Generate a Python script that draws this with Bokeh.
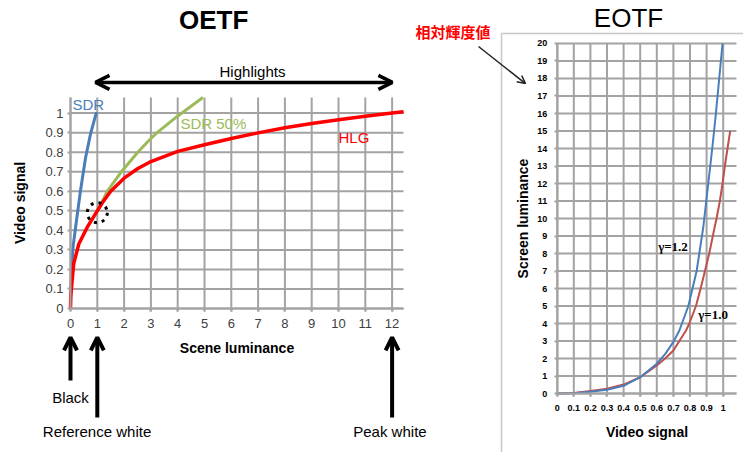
from bokeh.plotting import figure
from bokeh.models import Range1d, FixedTicker, Label, Arrow, OpenHead, LinearAxis
from bokeh.embed import file_html
from bokeh.resources import INLINE

# ---------------- OETF data (scene luminance -> video signal) ----------------
sdr_L = [0, 0.01, 0.04, 0.1, 0.19, 0.37, 0.56, 0.75, 0.97]
sdr_V = [0, 0.08, 0.21, 0.32, 0.416, 0.60, 0.77, 0.895, 1.005]

sdr50_L = [1.0, 1.18, 1.37, 1.9, 2.51, 2.96, 3.23, 3.98, 4.94]
sdr50_V = [0.50, 0.545, 0.60, 0.70, 0.80, 0.865, 0.90, 0.983, 1.08]

hlg_L = [0, 0.01, 0.04, 0.12, 0.31, 0.62, 1.0, 1.18, 1.5, 2, 2.5, 3, 4, 5, 6, 7, 8, 9, 10, 11, 12, 12.43]
hlg_V = [0, 0.06, 0.11, 0.23, 0.33, 0.415, 0.5, 0.54, 0.60, 0.667, 0.715, 0.752, 0.804, 0.838, 0.870,
         0.899, 0.925, 0.947, 0.966, 0.984, 1.0, 1.007]

circle_L = [1.0]
circle_V = [0.49]

oetf_x_ticks = [0, 1, 2, 3, 4, 5, 6, 7, 8, 9, 10, 11, 12]
oetf_y_ticks = [0, 0.1, 0.2, 0.3, 0.4, 0.5, 0.6, 0.7, 0.8, 0.9, 1.0]
oetf_y_labels = ["0", "0.1", "0.2", "0.3", "0.4", "0.5", "0.6", "0.7", "0.8", "0.9", "1"]
oetf_x_max = 12.425
oetf_y_max = 1.08

# ---------------- EOTF data (video signal -> screen luminance) ----------------
g12_V = [0, 0.1, 0.2, 0.3, 0.4, 0.5, 0.6, 0.65, 0.7, 0.736, 0.79, 0.84, 0.88, 0.91, 0.934, 0.956, 0.976, 0.996]
g12_L = [0, 0.02, 0.1, 0.21, 0.44, 0.93, 1.7, 2.25, 2.95, 3.6, 5.0, 7.0, 9.5, 12, 14, 16, 18, 20]

g10_V = [0, 0.1, 0.2, 0.3, 0.4, 0.5, 0.6, 0.65, 0.7, 0.776, 0.796, 0.836, 0.864, 0.89, 0.916, 0.944,
         0.960, 0.980, 0.996, 1.010, 1.026, 1.042]
g10_L = [0, 0.03, 0.15, 0.27, 0.51, 0.93, 1.6, 2.0, 2.46, 3.6, 4.0, 5.0, 6.0, 7.0, 8.0, 9.3,
         10, 11, 12, 13, 14, 15]

eotf_x_ticks = [0, 0.1, 0.2, 0.3, 0.4, 0.5, 0.6, 0.7, 0.8, 0.9, 1.0]
eotf_x_labels = ["0", "0.1", "0.2", "0.3", "0.4", "0.5", "0.6", "0.7", "0.8", "0.9", "1"]
eotf_y_ticks = list(range(0, 21))
eotf_x_max = 1.08
eotf_y_max = 20

# ---------------- styles ----------------
GRID = "#a3a3a3"
FONT = "Liberation Sans"
BLUE = "#4a7ebb"
GREEN = "#9bbb59"
RED = "#ff0000"
RED2 = "#c0504d"


def overrides(ticks, labels):
    d = {}
    for t, l in zip(ticks, labels):
        d[t] = l
    return d


# one canvas; the OETF chart uses the default ranges, the EOTF chart uses extra ranges
p = figure(width=743, height=452, x_range=Range1d(-2.6119, 25.112), y_range=Range1d(-0.7369, 1.5763),
           x_axis_type=None, y_axis_type=None, output_backend="svg", toolbar_location=None,
           min_border_left=0, min_border_right=0, min_border_top=0, min_border_bottom=0)
p.extra_x_ranges = {"ex": Range1d(-3.3536, 1.1223)}
p.extra_y_ranges = {"ey": Range1d(-3.371, 22.457)}
p.outline_line_color = None
p.border_fill_color = "white"
p.background_fill_color = "white"


def style_axis(ax, size, color, bold_ticks, standoff, label_standoff):
    ax.axis_line_color = GRID
    ax.axis_line_width = 2
    ax.major_tick_line_color = GRID
    ax.major_tick_line_width = 2
    ax.major_tick_out = 3
    ax.major_tick_in = 0
    ax.minor_tick_line_color = None
    ax.major_label_text_font = FONT
    ax.major_label_text_font_size = size
    ax.major_label_text_color = color
    ax.major_label_text_font_style = "bold" if bold_ticks else "normal"
    ax.major_label_standoff = standoff
    ax.axis_label_text_font = FONT
    ax.axis_label_text_font_style = "bold"
    ax.axis_label_text_font_size = "14px"
    ax.axis_label_text_color = "black"
    ax.axis_label_standoff = label_standoff


# ---------- OETF grid ----------
p.segment(x0=oetf_x_ticks, y0=-0.015, x1=oetf_x_ticks, y1=oetf_y_max, line_color=GRID, line_width=2)
p.segment(x0=0, y0=oetf_y_ticks, x1=oetf_x_max, y1=oetf_y_ticks, line_color=GRID, line_width=2)

ox = LinearAxis(fixed_location=0, bounds=(0, oetf_x_max), ticker=FixedTicker(ticks=oetf_x_ticks),
                axis_label="Scene luminance")
style_axis(ox, "13px", "#404040", False, 7, 9)
p.add_layout(ox, "below")
oy = LinearAxis(fixed_location=0, bounds=(0, oetf_y_max), ticker=FixedTicker(ticks=oetf_y_ticks),
                axis_label="Video signal")
oy.major_label_overrides = overrides(oetf_y_ticks, oetf_y_labels)
style_axis(oy, "13px", "#404040", False, 4, 14)
p.add_layout(oy, "left")

p.line(sdr50_L, sdr50_V, line_color=GREEN, line_width=3, line_join="round")
p.line(sdr_L, sdr_V, line_color=BLUE, line_width=3, line_join="round")
p.line(hlg_L, hlg_V, line_color=RED, line_width=3.5, line_join="round")
p.scatter(circle_L, circle_V, marker="circle", size=20, fill_color=None,
          line_color="black", line_width=3, line_dash="3 5")


def lab(x, y, text, size="15px", color="black", style="normal", align="left",
        font=FONT, eotf=False):
    kw = dict(x_range_name="ex", y_range_name="ey") if eotf else {}
    p.add_layout(Label(x=x, y=y, text=text, text_font=font, text_font_size=size,
                       text_color=color, text_font_style=style, text_align=align,
                       text_baseline="middle", **kw))


lab(5.34, 1.474, "OETF", size="26px", style="bold", align="center")
lab(6.79, 1.213, "Highlights", size="15px", align="center")
lab(0.075, 1.044, "SDR", color=BLUE)
lab(4.10, 0.949, "SDR 50%", color=GREEN)
lab(10.0, 0.873, "HLG", color=RED)
lab(0.0, -0.455, "Black", align="center")
lab(0.99, -0.63, "Reference white", align="center")
lab(11.92, -0.63, "Peak white", align="center")

p.add_layout(Arrow(x_start=0.933, y_start=1.157, x_end=12.01, y_end=1.157,
                   start=OpenHead(size=14, line_width=3.5), end=OpenHead(size=14, line_width=3.5),
                   line_width=3.5, line_color="black"))
for xx, y0 in [(0.0, -0.368), (1.0, -0.558), (12.0, -0.558)]:
    p.add_layout(Arrow(x_start=xx, y_start=y0, x_end=xx, y_end=-0.148,
                       end=OpenHead(size=13, line_width=4), line_width=4, line_color="black"))

# ---------- EOTF ----------
# chart border (top and left edge of the EOTF panel)
p.segment(x0=-0.3355, y0=20.57, x1=-0.3355, y1=-3.371, line_color="#c8c8c8", line_width=1.5,
          x_range_name="ex", y_range_name="ey")
p.segment(x0=-0.3355, y0=20.57, x1=1.1223, y1=20.57, line_color="#c8c8c8", line_width=1.5,
          x_range_name="ex", y_range_name="ey")

p.segment(x0=eotf_x_ticks, y0=-0.17, x1=eotf_x_ticks, y1=eotf_y_max, line_color=GRID, line_width=2,
          x_range_name="ex", y_range_name="ey")
p.segment(x0=0, y0=eotf_y_ticks, x1=eotf_x_max, y1=eotf_y_ticks, line_color=GRID, line_width=2,
          x_range_name="ex", y_range_name="ey")

ex = LinearAxis(x_range_name="ex", y_range_name="ey", fixed_location=0, bounds=(0, eotf_x_max),
                ticker=FixedTicker(ticks=eotf_x_ticks), axis_label="Video signal")
ex.major_label_overrides = overrides(eotf_x_ticks, eotf_x_labels)
style_axis(ex, "9px", "black", True, 8, 10)
p.add_layout(ex, "below")
ey = LinearAxis(x_range_name="ex", y_range_name="ey", fixed_location=0, bounds=(0, eotf_y_max),
                ticker=FixedTicker(ticks=eotf_y_ticks), axis_label="Screen luminance")
style_axis(ey, "9px", "black", True, 7, 3)
p.add_layout(ey, "left")

p.line(g10_V, g10_L, line_color=RED2, line_width=2, line_join="round", x_range_name="ex", y_range_name="ey")
p.line(g12_V, g12_L, line_color=BLUE, line_width=2, line_join="round", x_range_name="ex", y_range_name="ey")

lab(0.4295, 21.43, "EOTF", size="26px", align="center", eotf=True)
lab(0.6976, 8.4, "γ=1.2", size="13px", style="bold", align="center", font="Liberation Serif", eotf=True)
lab(0.9386, 4.51, "γ=1.0", size="13px", style="bold", align="center", font="Liberation Serif", eotf=True)
lab(-0.8536, 20.686, "相対輝度値", size="15px", color="red", style="bold", font="Noto Sans CJK JP", eotf=True)

p.add_layout(Arrow(x_start=-0.474, y_start=19.83, x_end=-0.191, y_end=17.71,
                   end=OpenHead(size=8, line_width=1.5, line_color="#222222"),
                   line_width=1.5, line_color="#222222", x_range_name="ex", y_range_name="ey"))

open("out.html", "w").write(file_html(p, INLINE))
